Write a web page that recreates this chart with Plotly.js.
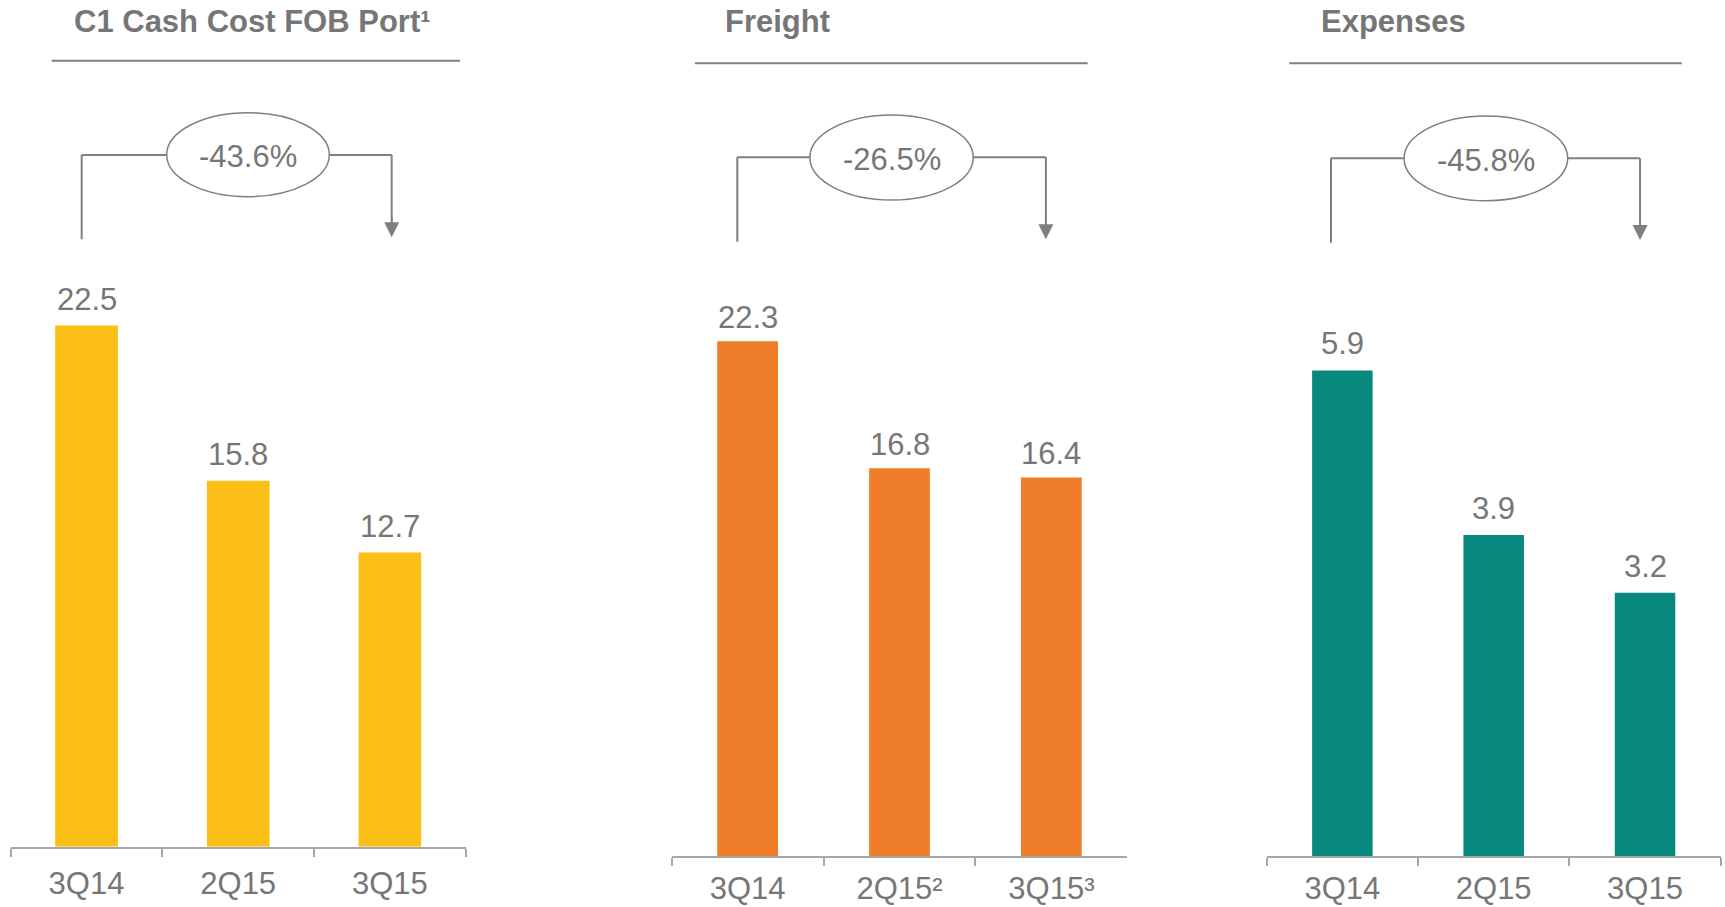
<!DOCTYPE html>
<html>
<head>
<meta charset="utf-8">
<script src="https://cdn.plot.ly/plotly-3.0.1.min.js"></script>
<style>html,body{margin:0;padding:0;background:#fff;}#chart{width:1725px;height:907px;}</style>
</head>
<body>
<div id="chart"></div>
<script>
// ---- data ----
const panelTitles = ['C1 Cash Cost FOB Port\u00B9', 'Freight', 'Expenses'];
const cashCostCategories = ['3Q14', '2Q15', '3Q15'];
const cashCostValues = [22.5, 15.8, 12.7];
const freightCategories = ['3Q14', '2Q15\u00B2', '3Q15\u00B3'];
const freightValues = [22.3, 16.8, 16.4];
const expensesCategories = ['3Q14', '2Q15', '3Q15'];
const expensesValues = [5.9, 3.9, 3.2];
const changeLabels = ['-43.6%', '-26.5%', '-45.8%'];

// ---- styling ----
const FONT = 'Liberation Sans, Arial, Helvetica, sans-serif';
const TEXT_GRAY = '#767676';
const LINE_GRAY = '#7f7f7f';
const AXIS_GRAY = '#a6a6a6';
const colors = ['#FBBF18', '#F07D2A', '#078980'];

const W = 1725, H = 907;
const py = v => 1 - v / H;   // pixel row -> paper y
const px = v => v / W;       // pixel col -> paper x

const panels = [
  {cats: cashCostCategories, vals: cashCostValues, x: [10.7, 465.7], base: 846.7, range: 30.68, bw: 0.413, lblShift: 7, standoff: 8,
   title: {x: 71.5, y: 22}, rule: {x0: 51.7, x1: 460, y: 60.7},
   br: {left: -0.032, right: 2.012, ex0: 0.5286, ex1: 1.6007, hy: 155, bottom: 239.3, tip: 237.3, ey0: 112.7, ey1: 196.7, ty: 156.5}},
  {cats: freightCategories, vals: freightValues, x: [671.7, 1127.3], base: 856, range: 31.19, bw: 0.40, lblShift: 4, standoff: 4,
   title: {x: 723, y: 22}, rule: {x0: 695, x1: 1087.7, y: 63.3},
   br: {left: -0.068, right: 1.964, ex0: 0.410, ex1: 1.4855, hy: 157.3, bottom: 241.7, tip: 239.3, ey0: 115, ey1: 200, ty: 159.5}},
  {cats: expensesCategories, vals: expensesValues, x: [1266.7, 1720.7], base: 856, range: 8.748, bw: 0.40, lblShift: 7, standoff: 4,
   title: {x: 1319, y: 22}, rule: {x0: 1289.3, x1: 1681.7, y: 63.3},
   br: {left: -0.075, right: 1.967, ex0: 0.4075, ex1: 1.489, hy: 158.3, bottom: 242.7, tip: 240, ey0: 116, ey1: 200.7, ty: 160.5}}
];

const data = [];
const layout = {
  width: W, height: H,
  margin: {l: 0, r: 0, t: 0, b: 0},
  paper_bgcolor: '#ffffff', plot_bgcolor: 'rgba(0,0,0,0)',
  showlegend: false,
  font: {family: FONT, color: TEXT_GRAY},
  shapes: [], annotations: []
};

panels.forEach((p, i) => {
  const n = i === 0 ? '' : String(i + 1);
  const xa = 'x' + n, ya = 'y' + n;
  data.push({
    type: 'bar', x: p.cats, y: p.vals, xaxis: xa, yaxis: ya,
    width: p.bw, marker: {color: colors[i], line: {width: 0}},
    hoverinfo: 'x+y'
  });
  layout['xaxis' + n] = {
    domain: [px(p.x[0]), px(p.x[1])], anchor: ya, type: 'category',
    range: [-0.5, 2.5], fixedrange: true,
    showline: true, linecolor: AXIS_GRAY, linewidth: 2,
    ticks: 'outside', tickson: 'boundaries', ticklen: 8, tickwidth: 2, tickcolor: AXIS_GRAY,
    tickfont: {family: FONT, size: 31, color: TEXT_GRAY}, ticklabelstandoff: p.standoff,
    showgrid: false, zeroline: false
  };
  layout['yaxis' + n] = {
    domain: [py(p.base), 0.85], anchor: xa, range: [0, p.range], fixedrange: true,
    visible: false, showgrid: false, zeroline: false
  };
  // value labels
  p.cats.forEach((c, k) => {
    layout.annotations.push({
      xref: xa, yref: ya, x: c, y: p.vals[k], text: p.vals[k].toFixed(1),
      showarrow: false, yanchor: 'bottom', yshift: p.lblShift,
      font: {family: FONT, size: 31, color: TEXT_GRAY}
    });
  });
  // title + rule
  layout.annotations.push({
    xref: 'paper', yref: 'paper', x: px(p.title.x), y: py(p.title.y), xanchor: 'left', yanchor: 'middle',
    text: '<b>' + panelTitles[i] + '</b>', showarrow: false,
    font: {family: FONT, size: 31, color: TEXT_GRAY}
  });
  layout.shapes.push({type: 'line', xref: 'paper', yref: 'paper',
    x0: px(p.rule.x0), x1: px(p.rule.x1), y0: py(p.rule.y), y1: py(p.rule.y),
    line: {color: LINE_GRAY, width: 2}});
  // bracket
  const b = p.br;
  const ln = {color: LINE_GRAY, width: 2};
  layout.shapes.push({type: 'line', xref: xa, yref: 'paper', x0: b.left, x1: b.left, y0: py(b.bottom), y1: py(b.hy), line: ln});
  layout.shapes.push({type: 'line', xref: xa, yref: 'paper', x0: b.left, x1: b.right, y0: py(b.hy), y1: py(b.hy), line: ln});
  layout.shapes.push({type: 'line', xref: xa, yref: 'paper', x0: b.right, x1: b.right, y0: py(b.hy), y1: py(b.tip - 6), line: ln});
  layout.shapes.push({type: 'circle', xref: xa, yref: 'paper', x0: b.ex0, x1: b.ex1, y0: py(b.ey1), y1: py(b.ey0),
    fillcolor: '#ffffff', line: {color: LINE_GRAY, width: 1.5}});
  layout.annotations.push({
    xref: xa, yref: 'paper', x: (b.ex0 + b.ex1) / 2, y: py(b.ty), text: changeLabels[i],
    showarrow: false, xanchor: 'center', yanchor: 'middle',
    font: {family: FONT, size: 31, color: TEXT_GRAY}
  });
  layout.annotations.push({
    xref: xa, yref: 'paper', x: b.right, y: py(b.tip), ax: 0, ay: -22, text: '',
    showarrow: true, arrowhead: 2, arrowsize: 2, arrowwidth: 1.5, arrowcolor: LINE_GRAY, standoff: 0
  });
});

Plotly.newPlot('chart', data, layout, {staticPlot: true, displayModeBar: false});
</script>
</body>
</html>
